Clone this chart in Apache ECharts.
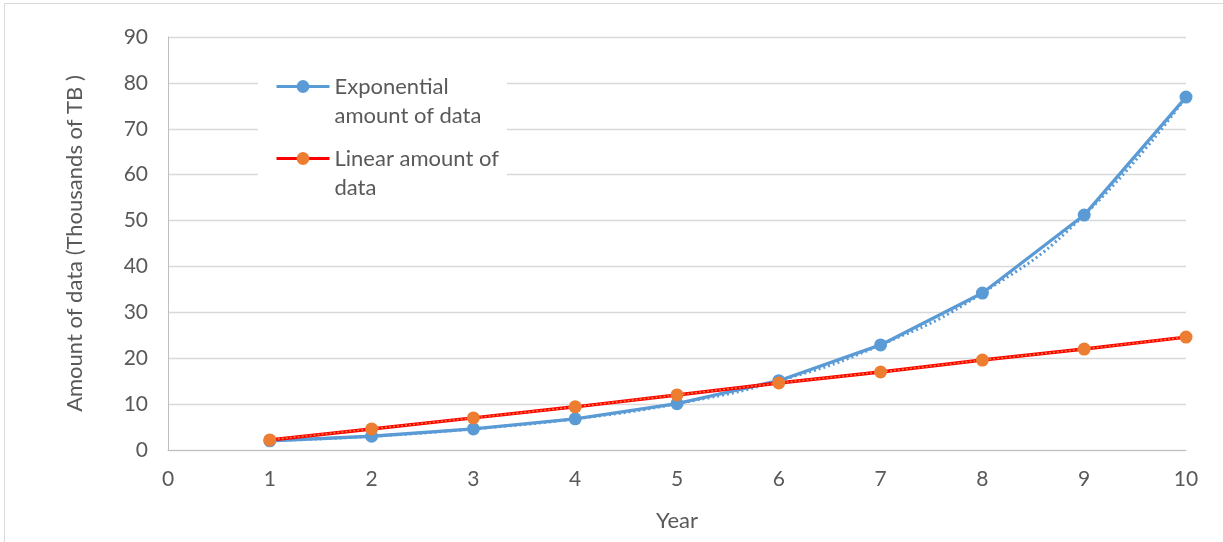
<!DOCTYPE html>
<html>
<head>
<meta charset="utf-8">
<script src="https://cdn.jsdelivr.net/npm/echarts@6/dist/echarts.min.js"></script>
<style>html,body{margin:0;padding:0;background:#fff;}#c{width:1223px;height:542px;}</style>
</head>
<body>
<div id="c"></div>
<script>
const years = [1, 2, 3, 4, 5, 6, 7, 8, 9, 10];
const exponentialData = [2.0, 3.0, 4.6, 6.8, 10.1, 15.1, 22.9, 34.2, 51.2, 76.9];
const linearData = [2.2, 4.6, 7.0, 9.4, 12.0, 14.6, 17.0, 19.6, 22.0, 24.6];
const xTicks = [0, 1, 2, 3, 4, 5, 6, 7, 8, 9, 10];
const yTicks = [0, 10, 20, 30, 40, 50, 60, 70, 80, 90];

const nameExp = 'Exponential amount of data';
const nameLin = 'Linear amount of data';
const pair = (xs, ys) => xs.map((x, i) => [x, ys[i]]);

const FONT = 'Lato';
const TXT = '#595959';
const LH = 29;

const chart = echarts.init(document.getElementById('c'), null, {renderer: 'canvas'});
chart.setOption({
  backgroundColor: '#ffffff',
  animation: false,
  textStyle: {fontFamily: FONT},
  graphic: [
    {type: 'line', shape: {x1: 4.5, y1: 3.5, x2: 1223, y2: 3.5}, style: {stroke: '#d9d9d9', lineWidth: 1}, silent: true},
    {type: 'line', shape: {x1: 4.5, y1: 3.5, x2: 4.5, y2: 542}, style: {stroke: '#d9d9d9', lineWidth: 1}, silent: true}
  ],
  grid: {left: 168, right: 37, top: 37, bottom: 92, containLabel: false},
  legend: {
    data: [nameExp, nameLin],
    orient: 'vertical',
    left: 258,
    top: 39,
    padding: [4, 8, 4, 17],
    itemGap: -15,
    itemWidth: 53,
    itemHeight: 16,
    backgroundColor: '#ffffff',
    lineStyle: {width: 3},
    formatter: function (n) {
      return n === nameExp ? ' \nExponential\namount of data' : ' \nLinear amount of\ndata';
    },
    textStyle: {fontFamily: FONT, fontSize: 22, color: TXT, lineHeight: LH},
    selectedMode: false
  },
  xAxis: {
    type: 'value',
    min: 0, max: 10, interval: 1,
    name: 'Year',
    nameLocation: 'middle',
    nameGap: 60,
    nameTextStyle: {fontFamily: FONT, fontSize: 22, color: TXT},
    axisLine: {show: true, lineStyle: {color: '#bfbfbf', width: 1}},
    axisTick: {show: false},
    splitLine: {show: false},
    axisLabel: {
      fontFamily: FONT, fontSize: 21, color: TXT, margin: 19,
      formatter: function (v) { return xTicks.indexOf(v) >= 0 ? String(v) : ''; }
    }
  },
  yAxis: {
    type: 'value',
    min: 0, max: 90, interval: 10,
    name: 'Amount of data (Thousands of TB )',
    nameLocation: 'middle',
    nameGap: 82,
    nameTextStyle: {fontFamily: FONT, fontSize: 22, color: TXT},
    axisLine: {show: true, lineStyle: {color: '#bfbfbf', width: 1}},
    axisTick: {show: false},
    splitLine: {show: true, lineStyle: {color: '#d9d9d9', width: 1.3}},
    axisLabel: {
      fontFamily: FONT, fontSize: 21, color: TXT, margin: 20,
      formatter: function (v) { return yTicks.indexOf(v) >= 0 ? String(v) : ''; }
    }
  },
  series: [
    {
      name: 'Exponential trend',
      type: 'line',
      data: pair(years, exponentialData),
      smooth: 0.5,
      symbol: 'none',
      lineStyle: {color: '#5B9BD5', width: 3, type: [2, 3]},
      z: 2,
      silent: true
    },
    {
      name: nameExp,
      type: 'line',
      data: pair(years, exponentialData),
      symbol: 'circle',
      symbolSize: 13,
      itemStyle: {color: '#5B9BD5'},
      lineStyle: {color: '#5B9BD5', width: 3.3},
      z: 3
    },
    {
      name: nameLin,
      type: 'line',
      data: pair(years, linearData),
      symbol: 'circle',
      symbolSize: 13,
      itemStyle: {color: '#ED7D31'},
      lineStyle: {color: '#FF0000', width: 3.5},
      z: 3
    },
    {
      name: 'Linear trend',
      type: 'line',
      data: pair(years, linearData),
      symbol: 'none',
      lineStyle: {color: '#ED7D31', width: 1.5, type: [2, 2]},
      z: 4,
      silent: true
    }
  ]
});
</script>
</body>
</html>
